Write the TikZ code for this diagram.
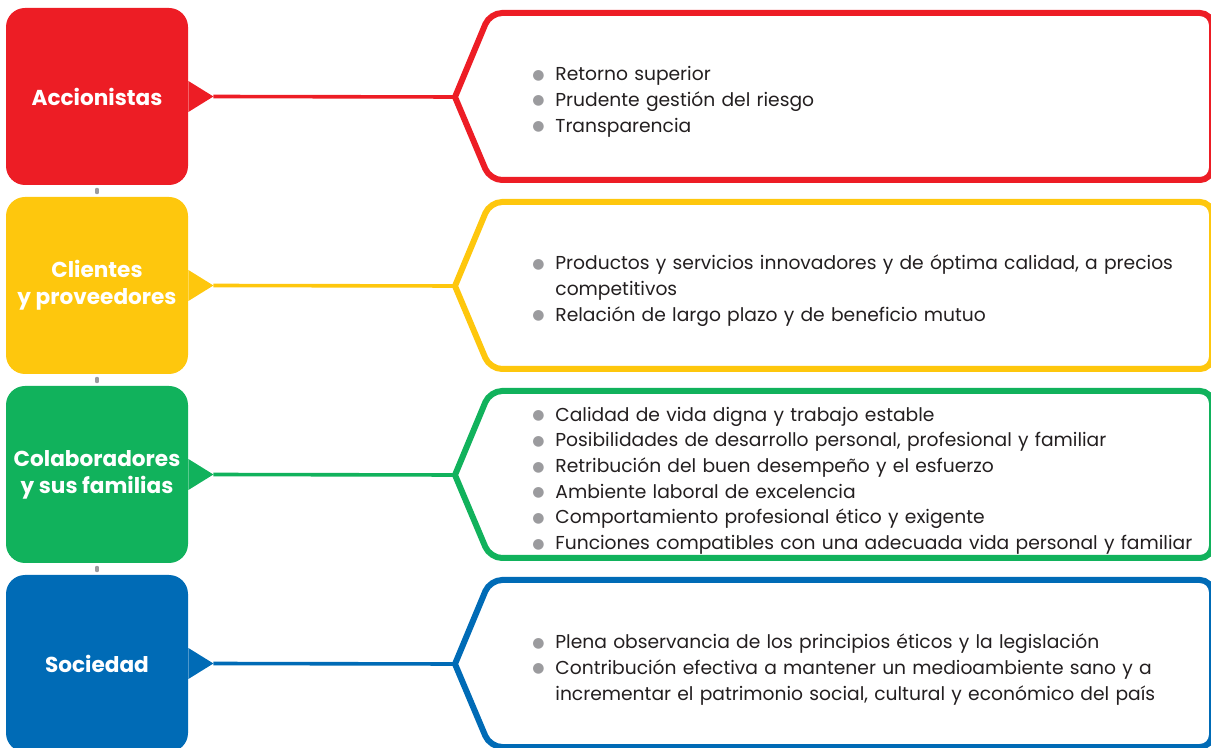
\documentclass[tikz,border=0pt]{standalone}
\usepackage{fontspec}
\setmainfont{Poppins}
\newfontfamily\dotfont{DejaVu Sans}
\usepackage{tikz}
\usetikzlibrary{positioning}
\definecolor{accred}{RGB}{237,29,37}
\definecolor{cliyellow}{RGB}{254,199,13}
\definecolor{colgreen}{RGB}{17,178,92}
\definecolor{socblue}{RGB}{0,107,182}
\definecolor{dotgray}{RGB}{155,155,158}
\definecolor{textdark}{RGB}{35,31,32}
\newcommand{\bul}{\textcolor{dotgray}{\raisebox{0.15ex}{\dotfont\fontsize{7pt}{7pt}\selectfont ●}}}
\newcommand{\itm}{\par\noindent\hangindent=11.5pt\hangafter=1\makebox[11.5pt][l]{\bul}}

\begin{document}
\begin{tikzpicture}[
        x=0.5pt, y=-0.5pt,
        lbox/.style={rectangle, rounded corners=9.5pt, minimum width=91pt, minimum height=88.5pt, inner sep=0pt, align=center, text=white, font=\fontsize{10.8pt}{13.5pt}\selectfont\bfseries},
        rbox/.style={line width=3pt, fill=white, line join=miter},
        conn/.style={line width=1.8pt},
        items/.style={anchor=west, inner sep=0pt, text width=340pt, align=left, text=textdark, font=\fontsize{9.35pt}{12.85pt}\selectfont},
        link/.style={dotgray, line width=1.6pt, line cap=round, shorten >=2pt, shorten <=2pt}
    ]
        \useasboundingbox (0,0) rectangle (1211,748);

        % Left boxes
        \node[lbox, fill=accred] (acc) at (97,96.5) {Accionistas};
        \node[lbox, fill=cliyellow] (cli) at (97,285.5) {Clientes\\y proveedores};
        \node[lbox, fill=colgreen] (col) at (97,474.5) {Colaboradores\\y sus familias};
        \node[lbox, fill=socblue] (soc) at (97,663.5) {Sociedad};

        % Small links between left boxes
        \draw[link] (acc.south) -- (cli.north);
        \draw[link] (cli.south) -- (col.north);
        \draw[link] (col.south) -- (soc.north);

        % Pointer tips and right box tips
        \coordinate (accp) at ([xshift=12.5pt]acc.east);
        \coordinate (clip) at ([xshift=12.5pt]cli.east);
        \coordinate (colp) at ([xshift=12.5pt]col.east);
        \coordinate (socp) at ([xshift=12.5pt]soc.east);
        \coordinate (acct) at (455,97);
        \coordinate (clit) at (455,286);
        \coordinate (colt) at (455,475);
        \coordinate (soct) at (455,664);

        % Pointers
        \fill[accred] ([yshift=7.75pt]acc.east) -- (accp) -- ([yshift=-7.75pt]acc.east) -- cycle;
        \fill[cliyellow] ([yshift=7.75pt]cli.east) -- (clip) -- ([yshift=-7.75pt]cli.east) -- cycle;
        \fill[colgreen] ([yshift=7.75pt]col.east) -- (colp) -- ([yshift=-7.75pt]col.east) -- cycle;
        \fill[socblue] ([yshift=7.75pt]soc.east) -- (socp) -- ([yshift=-7.75pt]soc.east) -- cycle;

        % Connectors
        \draw[conn, accred] (accp) -- (acct);
        \draw[conn, cliyellow] (clip) -- (clit);
        \draw[conn, colgreen] (colp) -- (colt);
        \draw[conn, socblue] (socp) -- (soct);

        % Right boxes
        \draw[rbox, draw=accred] (acct) [rounded corners=6pt] -- ++(35,-84) -- ++(722,0) -- ++(0,167) -- ++(-722,0) [sharp corners] -- cycle;
        \draw[rbox, draw=cliyellow] (clit) [rounded corners=6pt] -- ++(35,-84) -- ++(722,0) -- ++(0,167) -- ++(-722,0) [sharp corners] -- cycle;
        \draw[rbox, draw=colgreen] (colt) [rounded corners=6pt] -- ++(35,-84) -- ++(722,0) -- ++(0,167) -- ++(-722,0) [sharp corners] -- cycle;
        \draw[rbox, draw=socblue] (soct) [rounded corners=6pt] -- ++(35,-84) -- ++(722,0) -- ++(0,167) -- ++(-722,0) [sharp corners] -- cycle;

        % Texts
        \node[items] (acctxt) at (532,96) {\itm Retorno superior\itm Prudente gestión del riesgo\itm Transparencia\par};
        \node[items] (clitxt) at (532,285) {\itm Productos y servicios innovadores y de óptima calidad, a precios\newline competitivos\itm Relación de largo plazo y de beneficio mutuo\par};
        \node[items] (coltxt) at (532,475) {\itm Calidad de vida digna y trabajo estable\itm Posibilidades de desarrollo personal, profesional y familiar\itm Retribución del buen desempeño y el esfuerzo\itm Ambiente laboral de excelencia\itm Comportamiento profesional ético y exigente\itm Funciones compatibles con una adecuada vida personal y familiar\par};
        \node[items] (soctxt) at (532,664) {\itm Plena observancia de los principios éticos y la legislación\itm Contribución efectiva a mantener un medioambiente sano y a\newline incrementar el patrimonio social, cultural y económico del país\par};

    \end{tikzpicture}
\end{document}
